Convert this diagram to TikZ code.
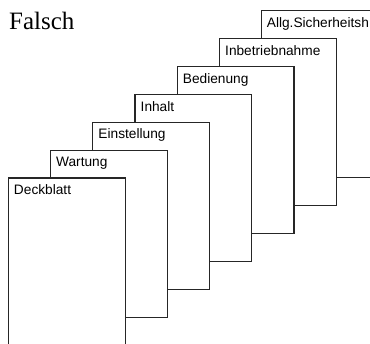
\documentclass[tikz,border=0pt]{standalone}
\usepackage{fontspec}
\setmainfont{Liberation Serif}
\setsansfont{Liberation Sans}
\usetikzlibrary{positioning}

\begin{document}
\begin{tikzpicture}[x=1bp,y=-1bp]
            \tikzstyle{page}=[draw=black!85,line width=1.2bp,fill=white,anchor=north west,minimum width=116.8bp,minimum height=167bp,inner sep=0pt,outer sep=0pt]
            \tikzstyle{title}=[anchor=base west,inner sep=0pt,font=\sffamily\fontsize{13.7bp}{16bp}\selectfont]
            \useasboundingbox (0,0) rectangle (370,344);
            \clip (0,0) rectangle (370,344);
            \node[anchor=base west,inner sep=0pt,font=\rmfamily\fontsize{25bp}{30bp}\selectfont](falsch) at (9,29){Falsch};
            % stack, back to front
            \node[page](allg) at (261.7,10.6){};
            \node[title](allg-t) at ([shift={(5,16.7)}]allg.north west){Allg.Sicherheitsh};
            \node[page](inbetrieb) at (219.5,38.5){};
            \node[title](inbetrieb-t) at ([shift={(5.5,16.7)}]inbetrieb.north west){Inbetriebnahme};
            \node[page](bedienung) at (177.2,66.4){};
            \node[title](bedienung-t) at ([shift={(5.5,16.7)}]bedienung.north west){Bedienung};
            \node[page](inhalt) at (135.0,94.3){};
            \node[title](inhalt-t) at ([shift={(5.5,16.7)}]inhalt.north west){Inhalt};
            \node[page](einstellung) at (92.8,122.2){};
            \node[title](einstellung-t) at ([shift={(5.5,16.7)}]einstellung.north west){Einstellung};
            \node[page](wartung) at (50.5,150.1){};
            \node[title](wartung-t) at ([shift={(5.5,16.7)}]wartung.north west){Wartung};
            \node[page](deckblatt) at (8.3,178){};
            \node[title](deckblatt-t) at ([shift={(5.5,16.7)}]deckblatt.north west){Deckblatt};
\end{tikzpicture}
\end{document}
